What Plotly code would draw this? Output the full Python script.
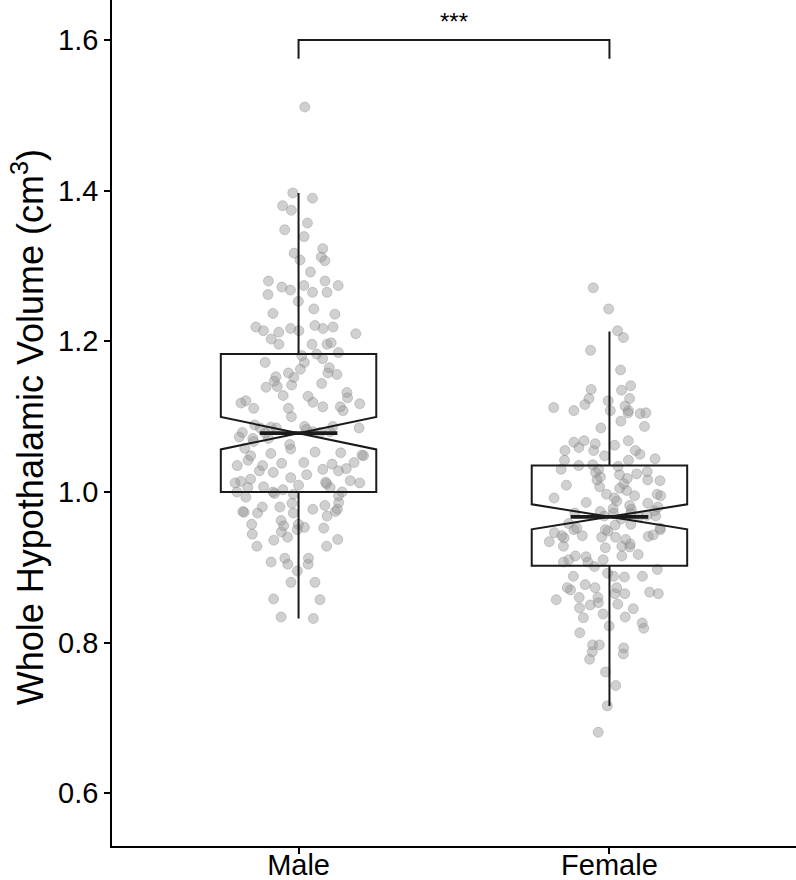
import plotly.graph_objects as go

# ---------------- data ----------------
groups = ["Male", "Female"]
group_pos = [1, 2]

# box statistics
q1 = [1.000, 0.902]
median = [1.078, 0.967]
q3 = [1.183, 1.035]
lowerfence = [0.832, 0.716]
upperfence = [1.397, 1.213]
notchspan = [0.0215, 0.0166]

male_values = [
    1.511, 1.397, 1.390, 1.374, 1.380, 1.357, 1.348, 1.339, 1.323, 1.317, 1.312, 1.308,
    1.307, 1.292, 1.280, 1.280, 1.274, 1.274, 1.268, 1.262, 1.265, 1.272, 1.265, 1.253,
    1.243, 1.237, 1.236, 1.219, 1.217, 1.217, 1.219, 1.221, 1.210, 1.212, 1.214, 1.214,
    1.203, 1.196, 1.198, 1.196, 1.196, 1.183, 1.181, 1.185, 1.177, 1.172, 1.172, 1.165,
    1.163, 1.158, 1.158, 1.156, 1.153, 1.152, 1.147, 1.144, 1.140, 1.139, 1.142, 1.132,
    1.128, 1.127, 1.125, 1.119, 1.121, 1.117, 1.118, 1.111, 1.111, 1.113, 1.113, 1.108,
    1.100, 1.085, 1.089, 1.085, 1.080, 1.083, 1.086, 1.085, 1.078, 1.080, 1.087, 1.087,
    1.079, 1.079, 1.073, 1.067, 1.071, 1.063, 1.071, 1.057, 1.058, 1.053, 1.052, 1.051,
    1.049, 1.048, 1.048, 1.039, 1.038, 1.039, 1.037,
    1.042, 1.035, 1.035, 1.028, 1.023, 1.019, 1.015, 1.031, 1.026, 1.030, 1.028, 1.017,
    1.013, 1.014, 1.011, 1.012, 1.006, 1.000, 1.009, 0.998, 1.012, 1.006, 1.007, 1.000,
    1.000, 0.995, 1.003, 0.997, 0.993, 0.986, 0.985, 0.982, 0.980, 0.977, 0.980, 0.977,
    0.974, 0.972, 0.968, 0.973, 0.974, 0.962, 0.972, 0.955, 0.952, 0.950, 0.957, 0.957,
    0.953, 0.944, 0.947, 0.940, 0.936, 0.937, 0.928, 0.928, 0.912, 0.912, 0.904, 0.904,
    0.907, 0.895, 0.880, 0.880, 0.858, 0.857, 0.834, 0.832,
]

female_values = [
    1.271, 1.243, 1.214, 1.205, 1.188, 1.162, 1.141, 1.136, 1.135, 1.121, 1.116, 1.124,
    1.124, 1.112, 1.105, 1.108, 1.108, 1.105, 1.108, 1.104, 1.114, 1.094, 1.087, 1.085,
    1.066, 1.068, 1.068, 1.062, 1.064, 1.059, 1.055, 1.055, 1.055, 1.050, 1.048, 1.042,
    1.044, 1.042, 1.036, 1.035, 1.034, 1.030, 1.030,
    1.020, 1.023, 1.027, 1.026, 1.024, 1.018, 1.016, 1.011, 1.005, 1.009, 1.007, 1.015,
    1.016, 1.002, 0.995, 0.997, 0.995, 0.997, 0.992, 0.992, 0.988, 0.985, 0.986, 0.978,
    0.980, 0.977, 0.974, 0.972, 0.982, 0.964, 0.956, 0.957, 0.950, 0.968, 0.967, 0.975,
    0.972, 0.968, 0.958, 0.969, 0.972, 0.946, 0.942, 0.940, 0.952, 0.942, 0.948, 0.952,
    0.950, 0.943, 0.941, 0.950, 0.939, 0.934, 0.937, 0.940, 0.931, 0.928, 0.927, 0.926,
    0.928, 0.914, 0.915, 0.915, 0.917, 0.910, 0.907, 0.910, 0.907, 0.901, 0.897, 0.892,
    0.888, 0.888, 0.888, 0.887,
    0.877, 0.873, 0.873, 0.865, 0.873, 0.865, 0.867, 0.870, 0.857, 0.865, 0.853, 0.860,
    0.860, 0.850, 0.851, 0.846, 0.845, 0.838, 0.834, 0.833, 0.826, 0.822, 0.813, 0.819,
    0.797, 0.797, 0.793, 0.788, 0.785, 0.778, 0.761, 0.743, 0.716, 0.681,
]

y_ticks = [0.6, 0.8, 1.0, 1.2, 1.4, 1.6]
y_title = "Whole Hypothalamic Volume (cm<sup>3</sup>)"
signif_label = "***"
bracket_y = 1.6
bracket_drop = 0.025

# ---------------- style ----------------
FONT = "Liberation Sans, Arial, sans-serif"
BOX_W = 0.5
NOTCH_FRAC = 0.5
LINE_C = "#1a1a1a"

fig = go.Figure()

# jittered points
fig.add_trace(go.Box(
    x=[group_pos[0]] * len(male_values) + [group_pos[1]] * len(female_values),
    y=male_values + female_values,
    boxpoints="all", jitter=1.0, pointpos=0, width=0.42,
    line=dict(width=0, color="rgba(0,0,0,0)"),
    fillcolor="rgba(0,0,0,0)",
    marker=dict(size=10, color="rgba(150,150,150,0.45)",
                line=dict(width=0.8, color="rgba(130,130,130,0.45)")),
    showlegend=False, hoverinfo="y",
))

# notched boxes from the statistics
fig.add_trace(go.Box(
    x=group_pos, q1=q1, median=median, q3=q3,
    lowerfence=lowerfence, upperfence=upperfence,
    notched=True, notchspan=notchspan, notchwidth=NOTCH_FRAC,
    width=BOX_W, whiskerwidth=0, boxpoints=False,
    line=dict(width=2, color=LINE_C),
    fillcolor="rgba(0,0,0,0)",
    showlegend=False,
))

# thick median segments (ggplot style)
mx, my = [], []
for p, m in zip(group_pos, median):
    half = BOX_W / 2 * (1 - NOTCH_FRAC)
    mx += [p - half, p + half, None]
    my += [m, m, None]
fig.add_trace(go.Scatter(x=mx, y=my, mode="lines",
                         line=dict(color=LINE_C, width=3.8),
                         showlegend=False, hoverinfo="skip"))

# significance bracket
fig.add_trace(go.Scatter(
    x=[group_pos[0], group_pos[0], group_pos[1], group_pos[1]],
    y=[bracket_y - bracket_drop, bracket_y, bracket_y, bracket_y - bracket_drop],
    mode="lines", line=dict(color=LINE_C, width=2),
    showlegend=False, hoverinfo="skip"))

fig.add_annotation(x=sum(group_pos) / 2, y=bracket_y, xref="x", yref="y",
                   text=signif_label, showarrow=False, yanchor="bottom", yshift=3,
                   font=dict(family=FONT, size=24, color="black"))

# y-axis title
fig.add_annotation(x=0, y=0.495, xref="paper", yref="paper", xshift=-84,
                   text=y_title, textangle=-90, showarrow=False,
                   xanchor="center", yanchor="middle",
                   font=dict(family=FONT, size=36, color="black"))

fig.update_layout(
    width=796, height=880,
    margin=dict(l=112, r=0, t=0, b=34),
    plot_bgcolor="white", paper_bgcolor="white",
    boxmode="overlay",
    font=dict(family=FONT, color="black"),
)
fig.update_xaxes(
    range=[0.4, 2.6], tickvals=group_pos, ticktext=groups,
    showline=True, linecolor="black", linewidth=1.6,
    ticks="outside", ticklen=6, tickwidth=1.6, tickcolor="black",
    showgrid=False, zeroline=False, automargin=False,
    ticklabelstandoff=-14,
    tickfont=dict(family=FONT, size=29, color="black"),
)
fig.update_yaxes(
    range=[0.530, 1.6531], tickvals=y_ticks, tickformat=".1f",
    showline=True, linecolor="black", linewidth=1.6,
    ticks="outside", ticklen=6, tickwidth=1.6, tickcolor="black",
    showgrid=False, zeroline=False, automargin=False,
    tickfont=dict(family=FONT, size=29, color="black"),
)

fig.write_html("out.html", config={"displayModeBar": False},
               post_script="document.body.style.margin='0px';document.body.style.overflow='hidden';")
